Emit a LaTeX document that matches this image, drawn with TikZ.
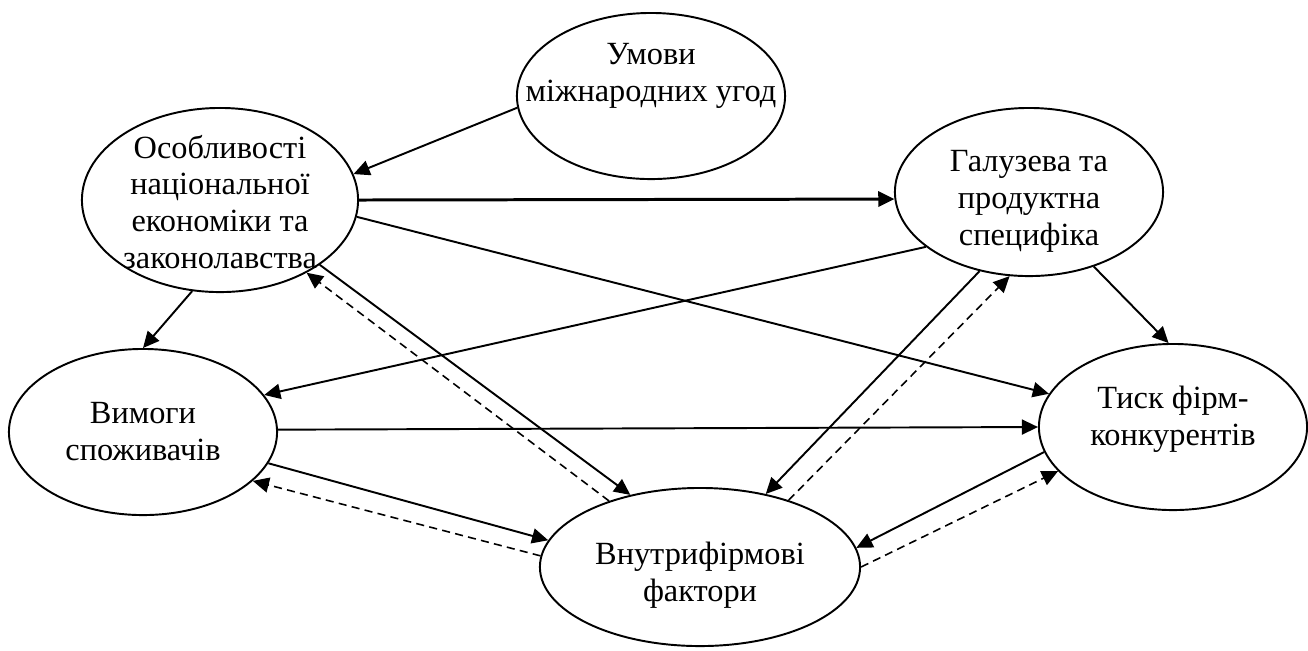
\documentclass[tikz,border=0pt]{standalone}
\usepackage{fontspec}
\setmainfont{Liberation Serif}
\usetikzlibrary{shapes.geometric,arrows.meta}

\begin{document}
\begin{tikzpicture}[x=0.01cm,y=-0.01cm,
  factor/.style={ellipse,draw,line width=0.55pt,inner sep=0pt},
  txt/.style={align=center,inner sep=0pt,font=\fontsize{9.2}{10.5}\selectfont},
  link/.style={-{Triangle[length=4.6pt,width=4.3pt]},line width=0.55pt},
  back/.style={link,line width=0.45pt,dash pattern=on 2.3pt off 1.5pt}]
\useasboundingbox (0,0) rectangle (1308,650);
% factors
\node[factor,minimum width=2.68cm,minimum height=1.66cm,
  label={[txt,yshift=2mm]center:Умови\\міжнародних угод}] (umovy) at (651,96) {};
\node[factor,minimum width=2.76cm,minimum height=1.84cm,
  label={[txt,yshift=-0.2mm]center:Особливості\\національної\\економіки та\\законолавства}] (osob) at (220,200) {};
\node[factor,minimum width=2.68cm,minimum height=1.68cm,
  label={[txt,yshift=-0.9mm]center:Галузева та\\продуктна\\специфіка}] (galuz) at (1029,192) {};
\node[factor,minimum width=2.68cm,minimum height=1.66cm,
  label={[txt]center:Вимоги\\споживачів}] (vymogy) at (143,432) {};
\node[factor,minimum width=2.68cm,minimum height=1.66cm,
  label={[txt,yshift=0.8mm]center:Тиск фірм-\\конкурентів}] (tysk) at (1173,427) {};
\node[factor,minimum width=3.2cm,minimum height=1.58cm,
  label={[txt,yshift=-0.8mm]center:Внутрифірмові\\фактори}] (vnutr) at (700,567) {};
% influences
\draw[link] (umovy.185) -- (osob.11.5);
\draw[link,line width=0.85pt] (osob.0) -- (galuz.183);
\draw[link] (osob.-7.5) -- (tysk.165.6);
\draw[link] (osob.253.4) -- (vymogy.90);
\draw[link] (osob.-33) -- (vnutr.134);
\draw[back] (vnutr.144.5) -- (osob.-40);
\draw[link] (galuz.208) -- (vymogy.17.4);
\draw[link] (galuz.-49) -- (tysk.93);
\draw[link] (galuz.238) -- (vnutr.48);
\draw[back] (vnutr.37) -- (galuz.257);
\draw[link] (vymogy.1.3) -- (tysk.180);
\draw[link] (vymogy.-14) -- (vnutr.170);
\draw[back] (vnutr.176.6) -- (vymogy.-24.5);
\draw[link] (tysk.191) -- (vnutr.7.3);
\draw[back] (vnutr.-0.4) -- (tysk.201.5);
\end{tikzpicture}
\end{document}
